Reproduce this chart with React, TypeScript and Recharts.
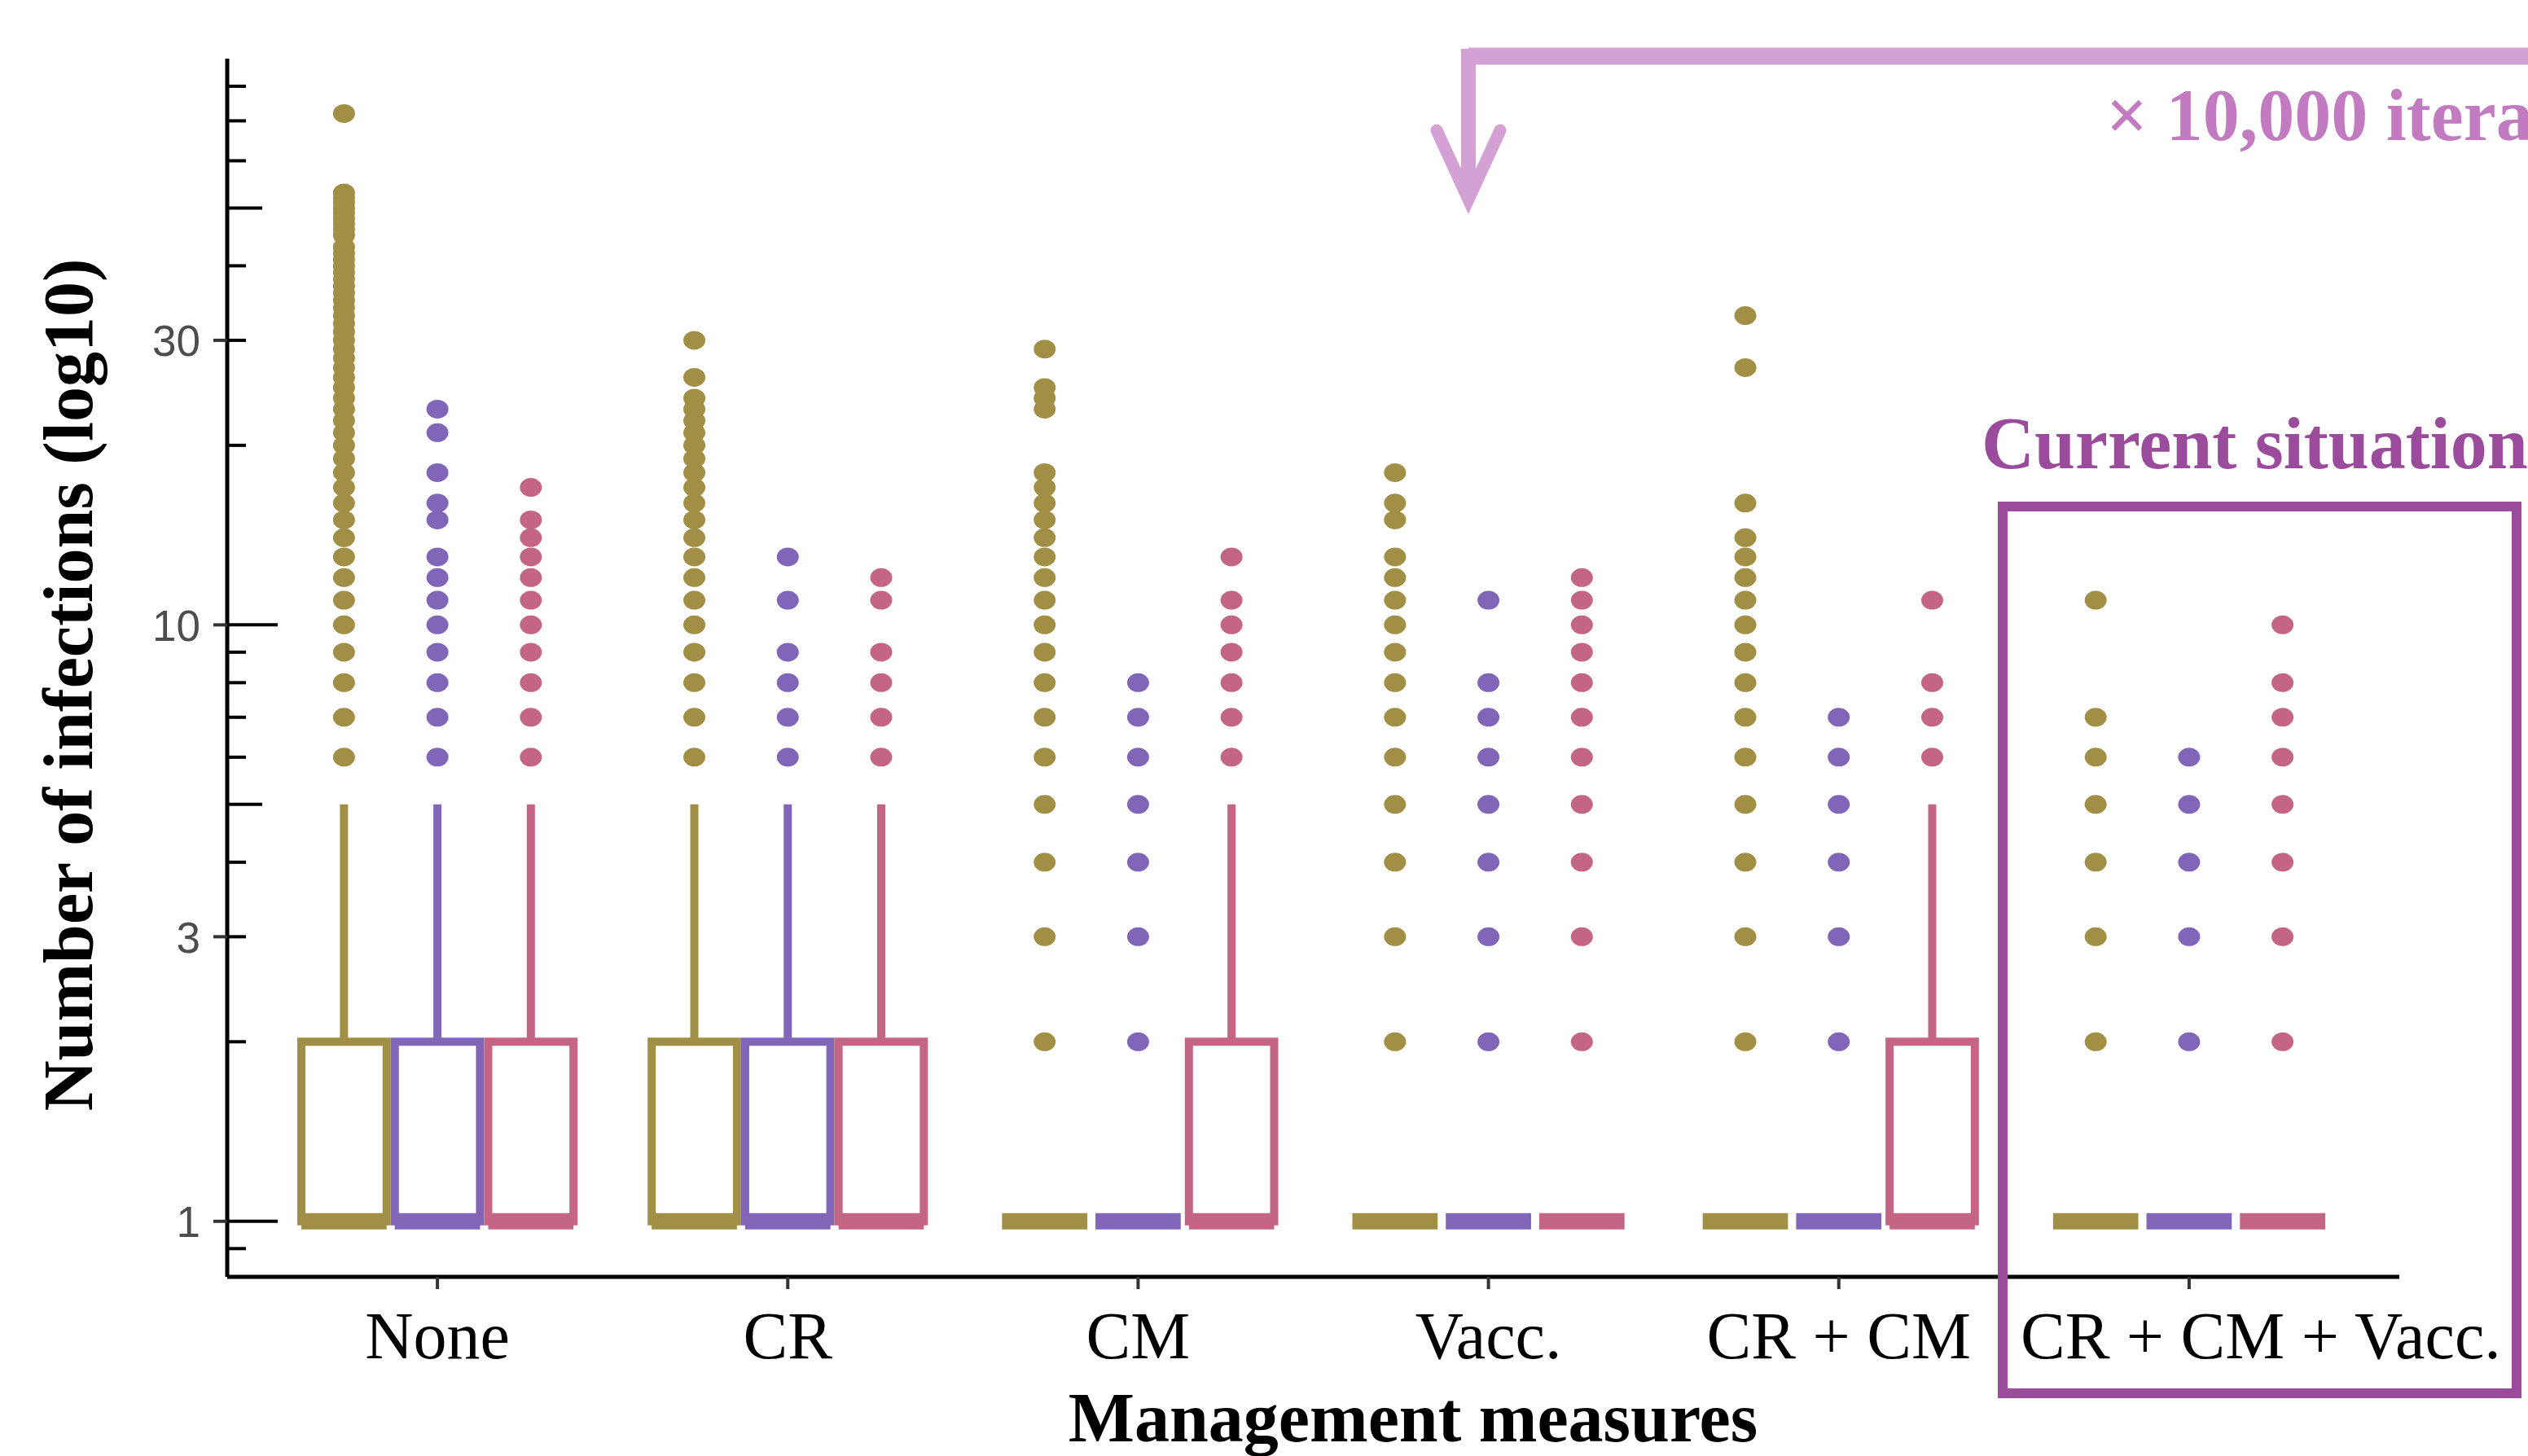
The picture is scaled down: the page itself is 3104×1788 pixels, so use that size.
import { ComposedChart, Scatter, XAxis, YAxis, ReferenceArea, ReferenceLine } from 'recharts'

// categories on the x axis
const groups = ['None', 'CR', 'CM', 'Vacc.', 'CR + CM', 'CR + CM + Vacc.']

// three scenarios, drawn side by side in every group
const seriesColors = ['#a08f45', '#8165b8', '#c46683']

// box statistics per group (lower hinge, median and lower whisker are all 1)
const lowerHinge = [1, 1, 1, 1, 1, 1]
const oliveQ3 = [2, 2, 1, 1, 1, 1]
const purpleQ3 = [2, 2, 1, 1, 1, 1]
const pinkQ3 = [2, 2, 2, 1, 2, 1]
const oliveUpper = [5, 5, 1, 1, 1, 1]
const purpleUpper = [5, 5, 1, 1, 1, 1]
const pinkUpper = [5, 5, 5, 1, 5, 1]

// outliers
const oliveOutliers = [
  [6, 7, 8, 9, 10, 11, 12, 13, 14, 15, 16, 17, 18, 19, 20, 21, 22, 23, 24, 25, 26, 27, 28, 29, 30, 31, 32, 33, 34, 35, 36, 37, 38, 39, 40, 41, 42, 43, 45, 46, 47, 48, 49, 50, 51, 52, 53, 72],
  [6, 7, 8, 9, 10, 11, 12, 13, 14, 15, 16, 17, 18, 19, 20, 21, 22, 23, 24, 26, 30],
  [2, 3, 4, 5, 6, 7, 8, 9, 10, 11, 12, 13, 14, 15, 16, 17, 18, 23, 24, 25, 29],
  [2, 3, 4, 5, 6, 7, 8, 9, 10, 11, 12, 13, 15, 16, 18],
  [2, 3, 4, 5, 6, 7, 8, 9, 10, 11, 12, 13, 14, 16, 27, 33],
  [2, 3, 4, 5, 6, 7, 11],
]
const purpleOutliers = [
  [6, 7, 8, 9, 10, 11, 12, 13, 15, 16, 18, 21, 23],
  [6, 7, 8, 9, 11, 13],
  [2, 3, 4, 5, 6, 7, 8],
  [2, 3, 4, 5, 6, 7, 8, 11],
  [2, 3, 4, 5, 6, 7],
  [2, 3, 4, 5, 6],
]
const pinkOutliers = [
  [6, 7, 8, 9, 10, 11, 12, 13, 14, 15, 17],
  [6, 7, 8, 9, 11, 12],
  [6, 7, 8, 9, 10, 11, 13],
  [2, 3, 4, 5, 6, 7, 8, 9, 10, 11, 12],
  [6, 7, 8, 11],
  [2, 3, 4, 5, 6, 7, 8, 10],
]

// y axis ticks (log ticks inside, labels on a few)
const yTicks = [0.9, 1, 2, 3, 4, 5, 6, 7, 8, 9, 10, 20, 30, 40, 50, 60, 70, 80]
const yLabels = [1, 3, 10, 30]

const W = 3104
const H = 1788
const SERIF = '"Liberation Serif", "Times New Roman", serif'
const SANS = '"Liberation Sans", Arial, sans-serif'
const DODGE = 0.2667
const HALF = 0.1217

const series = [
  { color: seriesColors[0], q3: oliveQ3, upper: oliveUpper, outliers: oliveOutliers },
  { color: seriesColors[1], q3: purpleQ3, upper: purpleUpper, outliers: purpleOutliers },
  { color: seriesColors[2], q3: pinkQ3, upper: pinkUpper, outliers: pinkOutliers },
].map((s, si) => ({
  ...s,
  offset: (si - 1) * DODGE,
  points: s.outliers.flatMap((vals, gi) => vals.map((v) => ({ x: gi + (si - 1) * DODGE, y: v }))),
}))

function YTick({ x, y, payload }: any) {
  const v = payload.value
  const len = v === 1 || v === 10 ? 62 : v === 5 || v === 50 ? 43 : 23
  const labelled = yLabels.includes(v)
  return (
    <g>
      <line x1={x} x2={x + len} y1={y} y2={y} stroke="#000" strokeWidth={4} />
      {labelled && <line x1={x - 17} x2={x} y1={y} y2={y} stroke="#333" strokeWidth={4} />}
      {labelled && (
        <text x={x - 33} y={y + 1} textAnchor="end" dominantBaseline="central" fontSize={53} fill="#4d4d4d" fontFamily={SANS}>
          {v}
        </text>
      )}
    </g>
  )
}

function XTick({ x, y, payload, index }: any) {
  // the last label is centred in the highlight box
  const shift = index === groups.length - 1 ? 88 : 0
  return (
    <text x={x + shift} y={y + 85} textAnchor="middle" fontSize={82} fontFamily={SERIF} fill="#000">
      {groups[payload.value]}
    </text>
  )
}

export default function App() {
  return (
    <div style={{ position: 'absolute', left: 0, top: 0, width: W, height: H, overflow: 'hidden', background: '#fff' }}>
      <ComposedChart width={W} height={H} margin={{ top: 72, right: 158, bottom: 0, left: 0 }}>
        <XAxis
          type="number"
          dataKey="x"
          domain={[-0.6, 5.6]}
          ticks={[0, 1, 2, 3, 4, 5]}
          interval={0}
          allowDataOverflow
          height={220}
          tickSize={15}
          tickMargin={0}
          tickLine={{ stroke: '#333', strokeWidth: 4 }}
          axisLine={{ stroke: '#000', strokeWidth: 5 }}
          tick={<XTick />}
        />
        <YAxis
          type="number"
          dataKey="y"
          scale="log"
          domain={[0.807, 89]}
          allowDataOverflow
          ticks={yTicks}
          interval={0}
          width={279}
          tickSize={0}
          tickMargin={0}
          tickLine={false}
          axisLine={{ stroke: '#000', strokeWidth: 5 }}
          tick={<YTick />}
        />

        {series.flatMap((s, si) =>
          groups.map((_, gi) => {
            const cx = gi + s.offset
            const q3 = s.q3[gi]
            const lo = lowerHinge[gi]
            return [
              s.upper[gi] > q3 && (
                <ReferenceLine
                  key={`w${si}-${gi}`}
                  segment={[{ x: cx, y: q3 }, { x: cx, y: s.upper[gi] }]}
                  stroke={s.color}
                  strokeWidth={10}
                />
              ),
              q3 > lo && (
                <ReferenceArea
                  key={`b${si}-${gi}`}
                  x1={cx - HALF}
                  x2={cx + HALF}
                  y1={lo}
                  y2={q3}
                  fill="#fff"
                  fillOpacity={1}
                  stroke={s.color}
                  strokeWidth={10}
                />
              ),
              <ReferenceLine
                key={`m${si}-${gi}`}
                segment={[{ x: cx - HALF, y: lo }, { x: cx + HALF, y: lo }]}
                stroke={s.color}
                strokeWidth={20}
              />,
            ]
          })
        )}

        {series.map((s, si) => (
          <Scatter
            key={`s${si}`}
            data={s.points}
            isAnimationActive={false}
            shape={(p: any) => <ellipse cx={p.cx} cy={p.cy} rx={13.5} ry={11.5} fill={s.color} />}
          />
        ))}
      </ComposedChart>

      <svg width={W} height={H} style={{ position: 'absolute', left: 0, top: 0, pointerEvents: 'none' }}>
        <text
          transform="translate(113, 841) rotate(-90)"
          textAnchor="middle"
          fontSize={86}
          fontWeight="bold"
          fontFamily={SERIF}
          fill="#000"
        >
          Number of infections (log10)
        </text>
        <text x={1735} y={1770} textAnchor="middle" fontSize={86} fontWeight="bold" fontFamily={SERIF} fill="#000">
          Management measures
        </text>

        {/* iteration arrow */}
        <path d="M1803 69 H3120" stroke="#d3a1d3" strokeWidth={21} fill="none" />
        <path d="M1803 60 V236" stroke="#d3a1d3" strokeWidth={18} fill="none" />
        <polyline
          points="1764,160 1803,245 1842,160"
          stroke="#d3a1d3"
          strokeWidth={15}
          fill="none"
          strokeLinecap="round"
          strokeLinejoin="miter"
        />
        {/* runs past the right edge, as in the source figure */}
        <text x={2586} y={172} fontSize={90} fontWeight="bold" fontFamily={SERIF} fill="#c27bc0">
          × 10,000 iterations
        </text>

        {/* current situation highlight */}
        <text x={2433} y={575} fontSize={90} fontWeight="bold" fontFamily={SERIF} fill="#9b4b9b">
          Current situation
        </text>
        <rect x={2459} y={622} width={631} height={1089} fill="none" stroke="#9b4b9b" strokeWidth={12} />
      </svg>
    </div>
  )
}
